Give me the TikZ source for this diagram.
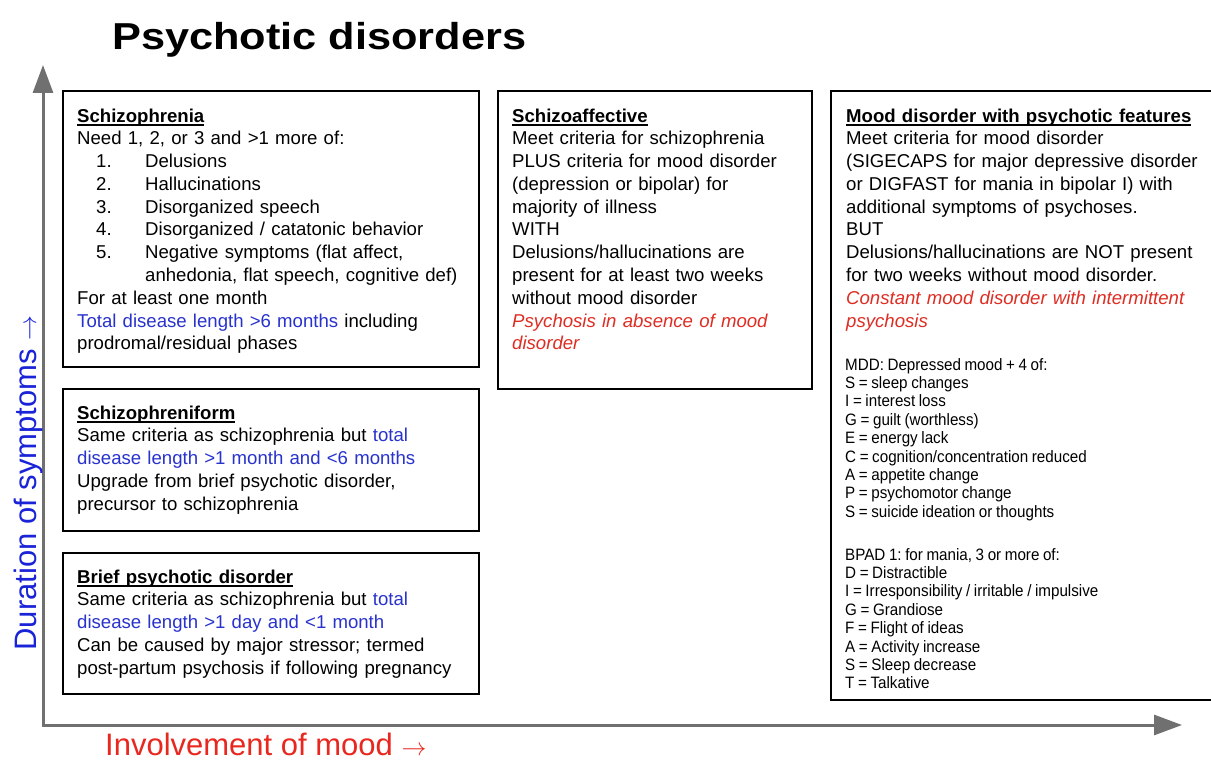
\documentclass[tikz,border=0pt]{standalone}
\usepackage{fontspec}
\setmainfont{Liberation Sans}
\newfontfamily\narrowfont[FakeStretch=0.92]{Liberation Sans}
\newfontfamily\titlefont[FakeStretch=1.155]{Liberation Sans}
\usetikzlibrary{arrows.meta}
\definecolor{txtblue}{RGB}{40,50,205}
\definecolor{txtred}{RGB}{222,45,35}
\definecolor{axisgray}{RGB}{112,112,112}
\definecolor{lblblue}{RGB}{25,35,215}
\definecolor{lblred}{RGB}{232,40,30}
\tikzset{
  panel/.style={draw=black, line width=1.8pt},
  bodytext/.style={anchor=base west, inner sep=0pt, align=left, text width=400pt,
    font=\frenchspacing\fontsize{18.6}{22.8}\selectfont},
  smalltext/.style={anchor=base west, inner sep=0pt, align=left, text width=360pt,
    font=\frenchspacing\narrowfont\fontsize{16.5}{18.4}\selectfont},
  axislabel/.style={inner sep=0pt, font=\fontsize{31}{36}\selectfont},
  axisline/.style={draw=axisgray, line width=3pt,
    {Triangle[length=28pt,width=20pt]}-{Triangle[length=28pt,width=20pt]}},
}
\newcommand{\listitem}[2]{\hspace*{19pt}\makebox[49pt][l]{#1}#2}
\newcommand{\ulbf}[1]{{\bfseries\setbox0\hbox{#1}\rlap{\rule[-3.6pt]{\wd0}{1.4pt}}\box0}}
\newcommand{\smallsp}{\spaceskip=3.6pt plus 1pt minus 0.5pt\relax}
\begin{document}
\begin{tikzpicture}[x=1pt,y=-1pt]
\useasboundingbox (0,0) rectangle (1211,760);
\fill[white] (0,0) rectangle (1211,760);

% title
\node[anchor=base west, inner sep=0pt, font=\titlefont\fontsize{37.5}{44}\selectfont\bfseries] (title) at (112,50) {Psychotic disorders};

% axes
\coordinate (ytip) at (43,65);
\coordinate (origin) at (43,725);
\coordinate (xtip) at (1182,725);
\draw[axisline] (ytip) -- (origin) -- (xtip);

\node[axislabel, anchor=base, rotate=90, text=lblblue] (ylabel) at (36,483) {Duration of symptoms $\rightarrow$};
\node[axislabel, anchor=base west, text=lblred] (xlabel) at (105,755) {Involvement of mood $\rightarrow$};

% panels
\draw[panel] (63,91) rectangle (479,367);
\draw[panel] (498,91) rectangle (812,389);
\draw[panel] (1215,91) -- (831,91) -- (831,700) -- (1215,700);
\draw[panel] (63,389) rectangle (479,531);
\draw[panel] (63,553) rectangle (479,694);

% schizophrenia
\node[bodytext] (schiz) at (77,122) {\ulbf{Schizophrenia}\\
Need 1, 2, or 3 and >1 more of:\\
\listitem{1.}{Delusions}\\
\listitem{2.}{Hallucinations}\\
\listitem{3.}{Disorganized speech}\\
\listitem{4.}{Disorganized / catatonic behavior}\\
\listitem{5.}{Negative symptoms (flat affect,}\\
\hspace*{68pt}anhedonia, flat speech, cognitive def)\\
For at least one month\\
\textcolor{txtblue}{Total disease length >6 months} including\\
prodromal/residual phases};

% schizoaffective
\node[bodytext] (schizoaff) at (512,122) {\ulbf{Schizoaffective}\\
Meet criteria for schizophrenia\\
PLUS criteria for mood disorder\\
(depression or bipolar) for\\
majority of illness\\
WITH\\
Delusions/hallucinations are\\
present for at least two weeks\\
without mood disorder\\
{\color{txtred}\itshape Psychosis in absence of mood}\\
{\color{txtred}\itshape disorder}};

% mood disorder
\node[bodytext] (mood) at (846,122) {\ulbf{Mood disorder with psychotic features}\\
Meet criteria for mood disorder\\
(SIGECAPS for major depressive disorder\\
or DIGFAST for mania in bipolar I) with\\
additional symptoms of psychoses.\\
BUT\\
Delusions/hallucinations are NOT present\\
for two weeks without mood disorder.\\
{\color{txtred}\itshape Constant mood disorder with intermittent}\\
{\color{txtred}\itshape psychosis}};

\node[smalltext] (mdd) at (845,370) {\smallsp MDD: Depressed mood + 4 of:\\
S = sleep changes\\
I = interest loss\\
G = guilt (worthless)\\
E = energy lack\\
C = cognition/concentration reduced\\
A = appetite change\\
P = psychomotor change\\
S = suicide ideation or thoughts};

\node[smalltext] (bpad) at (845,560) {\smallsp BPAD 1: for mania, 3 or more of:\\
D = Distractible\\
I = Irresponsibility / irritable / impulsive\\
G = Grandiose\\
F = Flight of ideas\\
A = Activity increase\\
S = Sleep decrease\\
T = Talkative};

% schizophreniform
\node[bodytext] (schizform) at (77,419) {\ulbf{Schizophreniform}\\
Same criteria as schizophrenia but \textcolor{txtblue}{total}\\
\textcolor{txtblue}{disease length >1 month and <6 months}\\
Upgrade from brief psychotic disorder,\\
precursor to schizophrenia};

% brief psychotic disorder
\node[bodytext] (brief) at (77,583) {\ulbf{Brief psychotic disorder}\\
Same criteria as schizophrenia but \textcolor{txtblue}{total}\\
\textcolor{txtblue}{disease length >1 day and <1 month}\\
Can be caused by major stressor; termed\\
post-partum psychosis if following pregnancy};
\end{tikzpicture}
\end{document}
